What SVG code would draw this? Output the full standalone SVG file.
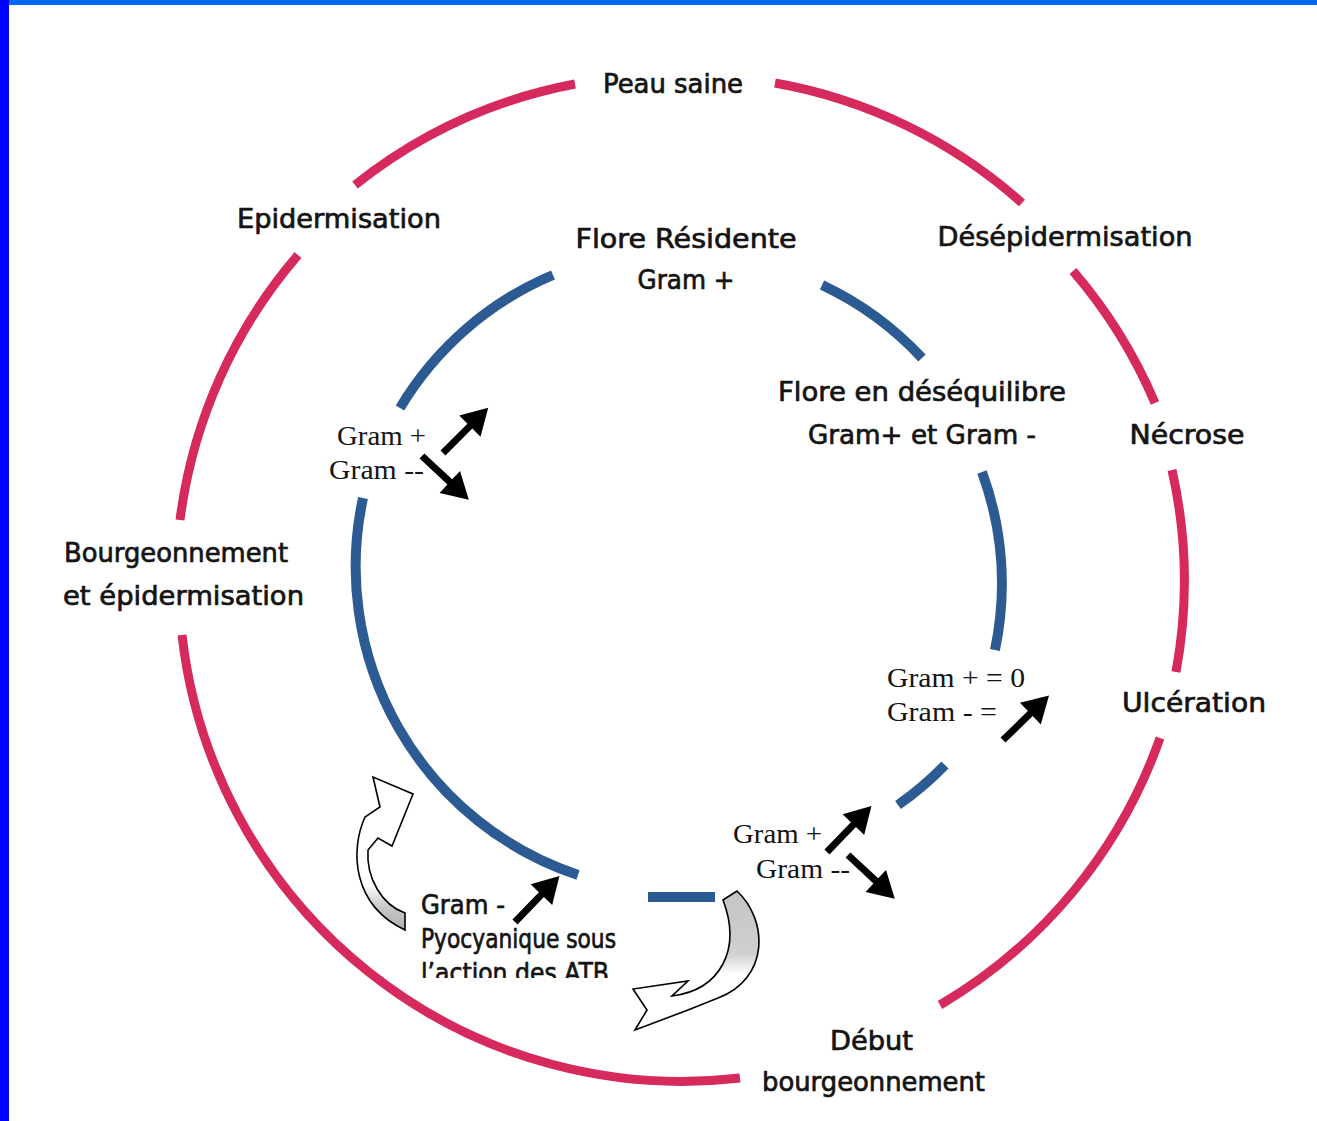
<svg xmlns="http://www.w3.org/2000/svg" xmlns:xlink="http://www.w3.org/1999/xlink" width="1317" height="1121" viewBox="0 0 1317 1121">
<style>
.red{fill:none;stroke:#D52A5B;stroke-width:9;stroke-linecap:butt}
.blue{fill:none;stroke:#2C5B94;stroke-width:10;stroke-linecap:butt}
.lbl{font-family:"DejaVu Sans","Liberation Sans",sans-serif;font-size:26px;fill:#141414;stroke:#141414;stroke-width:0.7}
.ser{font-family:"Liberation Serif","DejaVu Serif",serif;font-size:28px;fill:#141414}
.mid{text-anchor:middle}
.arr{fill:#000}
.curv{stroke:#000;stroke-width:1.6;stroke-linejoin:miter}
</style>
<defs>
<path id="ar" d="M0,-3.5 L38,-3.5 L38,-15 L64,0 L38,15 L38,3.5 L0,3.5 z"/>
<linearGradient id="gL" x1="0" y1="0" x2="0" y2="1">
<stop offset="0" stop-color="#fff"/><stop offset="0.7" stop-color="#fff"/><stop offset="0.85" stop-color="#c8c8c8"/><stop offset="1" stop-color="#b0b0b0"/>
</linearGradient>
<linearGradient id="gR" x1="0" y1="0" x2="0" y2="1">
<stop offset="0" stop-color="#c4c4c4"/><stop offset="0.45" stop-color="#d0d0d0"/><stop offset="0.6" stop-color="#fff"/><stop offset="1" stop-color="#fff"/>
</linearGradient>
<clipPath id="cut"><rect x="400" y="890" width="260" height="88"/></clipPath>
</defs>
<rect x="0" y="0" width="1317" height="1121" fill="#fff"/>
<rect x="0" y="0" width="1317" height="5" fill="#0066FF"/>
<rect x="0" y="0" width="9" height="1121" fill="#0000FF"/>

<g id="connectors">
<g id="outer-cycle">
<path class="red" d="M775,83 A503,503 0 0 1 1022,203"/>
<path class="red" d="M1073,271 A503,503 0 0 1 1155,403"/>
<path class="red" d="M1172,470 A503,503 0 0 1 1176,672"/>
<path class="red" d="M1160,738 A503,503 0 0 1 940,1005"/>
<path class="red" d="M740,1078 A503,503 0 0 1 182,635"/>
<path class="red" d="M180,520 A503,503 0 0 1 298,255"/>
<path class="red" d="M355,185 A503,503 0 0 1 575,84"/>
</g>
<g id="inner-cycle">
<path class="blue" d="M400,408 A325,325 0 0 1 553,275"/>
<path class="blue" d="M822,285 A325,325 0 0 1 922,358"/>
<path class="blue" d="M982,472 A325,325 0 0 1 995,650"/>
<path class="blue" d="M945,765 A325,325 0 0 1 898,805"/>
<path class="blue" d="M648,897 L715,897"/>
<path class="blue" d="M578,875 A325,325 0 0 1 363,498"/>
</g>
<g id="arrows">
<use href="#ar" class="arr" transform="translate(443,453) rotate(-45)"/>
<use href="#ar" class="arr" transform="translate(422,456) rotate(43)"/>
<use href="#ar" class="arr" transform="translate(1003,740) rotate(-44)"/>
<use href="#ar" class="arr" transform="translate(827,852) rotate(-46)"/>
<use href="#ar" class="arr" transform="translate(848,855) rotate(43)"/>
<use href="#ar" class="arr" transform="translate(515,922) rotate(-46)"/>
</g>
<g id="curved-arrows">
<path class="curv" fill="url(#gL)" d="M405,913 C382,905 366,878 368,850 L378,838 L392,846 L413,794 L373,777 L380,807 L365,817 C350,850 352,905 405,930 Z"/>
<path class="curv" fill="url(#gR)" d="M723,900 L737,891 C768,920 770,978 718,998 L688,1010 L635,1030 L647,1010 L633,989 L688,981 L672,996 C720,990 742,950 723,900 Z"/>
</g>
</g>

<g id="node-peau-saine"><text class="lbl mid" x="673" y="93" textLength="140" lengthAdjust="spacingAndGlyphs">Peau saine</text></g>
<g id="node-desepidermisation"><text class="lbl mid" x="1065" y="246" textLength="255" lengthAdjust="spacingAndGlyphs">Désépidermisation</text></g>
<g id="node-necrose"><text class="lbl mid" x="1187" y="444" textLength="115" lengthAdjust="spacingAndGlyphs">Nécrose</text></g>
<g id="node-ulceration"><text class="lbl mid" x="1194" y="712" textLength="144" lengthAdjust="spacingAndGlyphs">Ulcération</text></g>
<g id="node-debut-bourgeonnement">
<text class="lbl mid" x="871.5" y="1050" textLength="83" lengthAdjust="spacingAndGlyphs">Début</text>
<text class="lbl mid" x="873.5" y="1091" textLength="223" lengthAdjust="spacingAndGlyphs">bourgeonnement</text>
</g>
<g id="node-bourgeonnement-epidermisation">
<text class="lbl mid" x="176" y="562" textLength="224" lengthAdjust="spacingAndGlyphs">Bourgeonnement</text>
<text class="lbl mid" x="183.5" y="605" textLength="241" lengthAdjust="spacingAndGlyphs">et épidermisation</text>
</g>
<g id="node-epidermisation"><text class="lbl mid" x="339" y="228" textLength="204" lengthAdjust="spacingAndGlyphs">Epidermisation</text></g>
<g id="node-flore-residente">
<text class="lbl mid" x="686" y="248" textLength="221" lengthAdjust="spacingAndGlyphs">Flore Résidente</text>
<text class="lbl mid" x="686" y="289" textLength="97" lengthAdjust="spacingAndGlyphs">Gram +</text>
</g>
<g id="node-flore-desequilibre">
<text class="lbl mid" x="922" y="401" textLength="288" lengthAdjust="spacingAndGlyphs">Flore en déséquilibre</text>
<text class="lbl mid" x="922" y="444" textLength="228" lengthAdjust="spacingAndGlyphs">Gram+ et Gram -</text>
</g>
<g id="node-gram-left">
<text class="ser" x="337" y="445" textLength="89" lengthAdjust="spacingAndGlyphs">Gram +</text>
<text class="ser" x="329" y="479" textLength="95" lengthAdjust="spacingAndGlyphs">Gram --</text>
</g>
<g id="node-gram-right">
<text class="ser" x="887" y="687" textLength="138" lengthAdjust="spacingAndGlyphs">Gram + = 0</text>
<text class="ser" x="887" y="721" textLength="110" lengthAdjust="spacingAndGlyphs">Gram - =</text>
</g>
<g id="node-gram-bottom">
<text class="ser" x="733" y="843" textLength="89" lengthAdjust="spacingAndGlyphs">Gram +</text>
<text class="ser" x="756" y="878" textLength="94" lengthAdjust="spacingAndGlyphs">Gram --</text>
</g>
<g id="node-pyocyanique">
<text class="lbl" x="421" y="914" textLength="84" lengthAdjust="spacingAndGlyphs">Gram -</text>
<text class="lbl" x="421" y="948" textLength="195" lengthAdjust="spacingAndGlyphs">Pyocyanique sous</text>
<g clip-path="url(#cut)"><text class="lbl" x="421" y="982" textLength="188" lengthAdjust="spacingAndGlyphs">l’action des ATB</text></g>
</g>
</svg>
